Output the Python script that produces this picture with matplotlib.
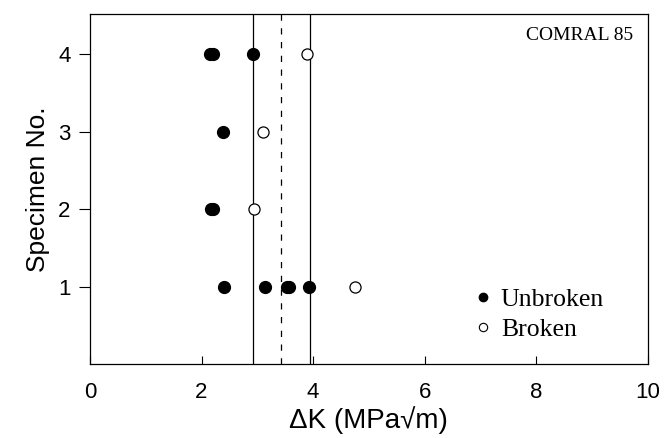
import numpy as np
import matplotlib
matplotlib.use("Agg")
import matplotlib.pyplot as plt
from matplotlib.lines import Line2D

## data
unbroken_x = [2.15, 2.20, 2.92, 2.38, 2.17, 2.21, 2.40, 3.14, 3.53, 3.56, 3.93]
unbroken_y = [4, 4, 4, 3, 2, 2, 1, 1, 1, 1, 1]
broken_x = [3.89, 3.10, 2.94, 4.75]
broken_y = [4, 3, 2, 1]
solid_lines = [2.93, 3.95]
dashed_line = 3.42
title_text = "COMRAL 85"

plt.rcParams['font.family'] = ['Liberation Sans', 'DejaVu Sans']

fig = plt.figure(figsize=(6.64, 4.38), dpi=100)
ax = fig.add_axes([0.1355, 0.169, 0.84, 0.799])

for xv in solid_lines:
    ax.axvline(xv, color='black', lw=0.9)
ax.axvline(dashed_line, color='black', lw=0.9, ls=(0, (5, 6)))

ax.plot(unbroken_x, unbroken_y, 'o', color='black', ms=8.5, ls='none')
ax.plot(broken_x, broken_y, 'o', mfc='white', mec='black', mew=0.9,
        ms=8, ls='none')

ax.set_xlim(0, 10)
ax.set_ylim(0, 4.52)
ax.set_xticks([0, 2, 4, 6, 8, 10])
ax.set_yticks([1, 2, 3, 4])
ax.tick_params(axis='x', direction='in', length=6, pad=13, labelsize=16)
ax.tick_params(axis='y', direction='out', length=8, pad=6, labelsize=16)
ax.set_xlabel("ΔK (MPa√m)", fontsize=20, labelpad=2)
ax.set_ylabel("Specimen No.", fontsize=19, labelpad=6)
for s in ax.spines.values():
    s.set_linewidth(0.9)

ax.text(0.973, 0.94, title_text, transform=ax.transAxes, ha='right',
        va='center', fontsize=14, family=['Liberation Serif'])

handles = [Line2D([], [], marker='o', color='black', ls='none', ms=6),
           Line2D([], [], marker='o', mfc='white', mec='black', ls='none',
                  ms=6, mew=0.8)]
ax.legend(handles, ["Unbroken", "Broken"], loc='lower left',
          bbox_to_anchor=(0.64, 0.0), frameon=False, handletextpad=0.2,
          handlelength=1.0, labelspacing=0.25,
          prop={'family': 'Liberation Serif', 'size': 18.5})

fig.savefig("out.png", dpi=100)
